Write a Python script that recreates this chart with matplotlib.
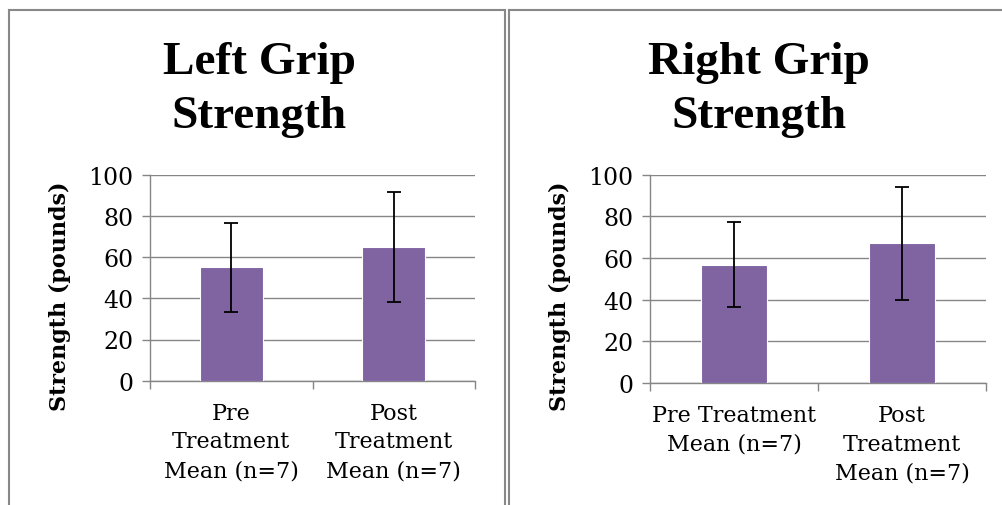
import matplotlib
matplotlib.use("Agg")
import matplotlib.pyplot as plt
from matplotlib.lines import Line2D

# data
left_labels = ["Pre\nTreatment\nMean (n=7)", "Post\nTreatment\nMean (n=7)"]
left_means = [55, 65]
left_err = [21.7, 26.7]

right_labels = ["Pre Treatment\nMean (n=7)", "Post\nTreatment\nMean (n=7)"]
right_means = [56.7, 67]
right_err = [20.4, 27]

y_ticks = [0, 20, 40, 60, 80, 100]

BAR_COLOR = "#8064A2"
GRID_COLOR = "#868686"
BORDER_COLOR = "#888888"
W, H = 1002, 506

fig = plt.figure(figsize=(W / 100, H / 100), dpi=100)
fig.patch.set_facecolor("white")


def px(x0, y0, x1, y1):
    # pixel box (top-left origin) -> figure fraction rect
    return [x0 / W, 1 - y1 / H, (x1 - x0) / W, (y1 - y0) / H]


def draw_panel(rect, title, title_x, ylab_x, labels, means, errs):
    ax = fig.add_axes(rect)
    cats = list(range(len(means)))
    ax.bar(cats, means, width=0.39, color=BAR_COLOR, edgecolor="white",
           linewidth=0.8, zorder=3)
    ax.errorbar(cats, means, yerr=errs, fmt="none", ecolor="black",
                elinewidth=1.3, capsize=5, capthick=1.3, zorder=4)

    ax.set_xlim(-0.5, len(means) - 0.5)
    ax.set_ylim(0, 100)
    ax.set_yticks(y_ticks)
    ax.yaxis.grid(True, color=GRID_COLOR, linewidth=1.0, zorder=0)
    ax.set_axisbelow(True)

    # category boundaries as major ticks, labels on minor ticks at centres
    ax.set_xticks([c - 0.5 for c in cats] + [len(means) - 0.5])
    ax.set_xticklabels([])
    ax.set_xticks(cats, minor=True)
    ax.set_xticklabels(labels, minor=True, fontsize=16, family="DejaVu Serif",
                       linespacing=1.4)
    ax.tick_params(axis="x", which="major", length=6, color=GRID_COLOR, width=1.0)
    ax.tick_params(axis="x", which="minor", length=0, pad=15)
    ax.tick_params(axis="y", length=6, color=GRID_COLOR, width=1.0, pad=6,
                   labelsize=17)
    for lab in ax.get_yticklabels():
        lab.set_family("DejaVu Serif")

    for s in ["top", "right"]:
        ax.spines[s].set_visible(False)
    for s in ["left", "bottom"]:
        ax.spines[s].set_color(GRID_COLOR)
        ax.spines[s].set_linewidth(1.0)

    fig.text(ylab_x / W, 1 - 296 / H, "Strength (pounds)", rotation=90,
             ha="center", va="center", fontsize=16, fontweight="bold",
             family="DejaVu Serif")

    fig.text(title_x / W, 1 - 90 / H, title, ha="center", va="center",
             fontsize=34, fontweight="bold", family="Liberation Serif",
             linespacing=1.4)
    return ax


draw_panel(px(150, 175.7, 475, 381.7), "Left Grip\nStrength", 259, 60,
           left_labels, left_means, left_err)
draw_panel(px(650, 175.7, 986, 384), "Right Grip\nStrength", 759, 560,
           right_labels, right_means, right_err)

# panel borders
lw = 1.5
def hline(x0, x1, y):
    fig.add_artist(Line2D([x0 / W, x1 / W], [1 - y / H, 1 - y / H],
                          color=BORDER_COLOR, linewidth=lw, transform=fig.transFigure))

def vline(x, y0, y1):
    fig.add_artist(Line2D([x / W, x / W], [1 - y0 / H, 1 - y1 / H],
                          color=BORDER_COLOR, linewidth=lw, transform=fig.transFigure))

hline(8.5, 505, 10.5)
vline(9, 10.5, 506)
vline(505, 10.5, 506)
hline(508.5, 1002, 10.5)
vline(509, 10.5, 506)

fig.savefig("out.png", dpi=100, facecolor="white")
